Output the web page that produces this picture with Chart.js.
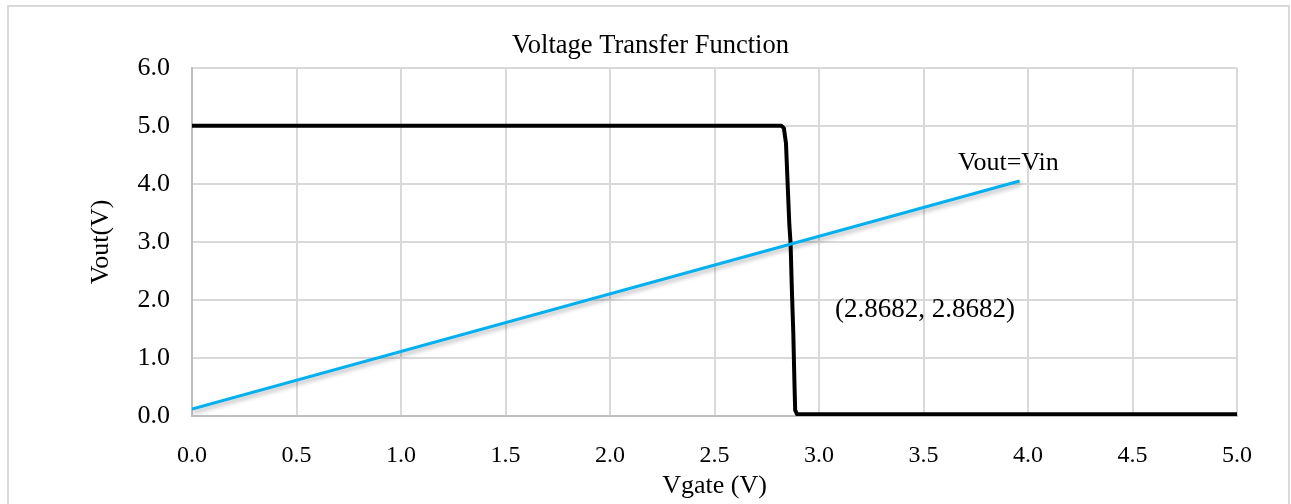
<!DOCTYPE html>
<html>
<head>
<meta charset="utf-8">
<script src="https://cdn.jsdelivr.net/npm/chart.js@4/dist/chart.umd.min.js"></script>
<style>
  html, body { margin: 0; padding: 0; background: #ffffff; }
  #wrap { position: relative; width: 1291px; height: 504px; }
</style>
</head>
<body>
<div id="wrap"><canvas id="c" width="1291" height="504"></canvas></div>
<script>
// ---- data ----
const vtcX = [0, 2.82, 2.832, 2.842, 2.85, 2.858, 2.864, 2.87, 2.877, 2.883, 2.886, 2.895, 5.0];
const vtcY = [5.0, 5.0, 4.96, 4.7, 4.0, 3.3, 2.98, 2.2, 1.43, 0.5, 0.1, 0.03, 0.03];
const unityX = [0, 3.96];
const unityY = [0.12, 4.05];
const xTickValues = [0, 0.5, 1, 1.5, 2, 2.5, 3, 3.5, 4, 4.5, 5];
const yTickValues = [0, 1, 2, 3, 4, 5, 6];
const labelTexts = ["Vout=Vin", "(2.8682, 2.8682)"];
const labelX = [3.665, 3.077];
const labelY = [4.36, 1.83];

const toPts = (xs, ys) => xs.map((x, i) => ({ x: x, y: ys[i] }));
const SERIF = "'Liberation Serif', 'Times New Roman', serif";

const framePlugin = {
  id: 'frame',
  beforeDraw(chart) {
    const ctx = chart.ctx;
    ctx.save();
    ctx.fillStyle = '#ffffff';
    ctx.fillRect(0, 0, chart.width, chart.height);
    ctx.strokeStyle = '#d9d9d9';
    ctx.lineWidth = 2;
    ctx.strokeRect(8, 6, 1281, 530);
    ctx.restore();
  }
};

const shadowPlugin = {
  id: 'lineShadow',
  beforeDatasetDraw(chart, args) {
    if (args.index === 0) {
      const ctx = chart.ctx;
      ctx.save();
      ctx.shadowColor = 'rgba(0,0,0,0.28)';
      ctx.shadowBlur = 4;
      ctx.shadowOffsetX = 1;
      ctx.shadowOffsetY = 3;
    }
  },
  afterDatasetDraw(chart, args) {
    if (args.index === 0) chart.ctx.restore();
  }
};

const labelPlugin = {
  id: 'textLabels',
  afterDatasetsDraw(chart) {
    const ctx = chart.ctx;
    const xs = chart.scales.x, ys = chart.scales.y;
    ctx.save();
    ctx.fillStyle = '#000000';
    ctx.textAlign = 'left';
    ctx.textBaseline = 'middle';
    labelTexts.forEach((t, i) => {
      ctx.font = (i === 0 ? "26px " : "27px ") + SERIF;
      ctx.fillText(t, xs.getPixelForValue(labelX[i]), ys.getPixelForValue(labelY[i]));
    });
    ctx.restore();
  }
};

new Chart(document.getElementById('c'), {
  type: 'scatter',
  data: {
    datasets: [
      {
        label: 'Vout=Vin',
        data: toPts(unityX, unityY),
        showLine: true,
        borderColor: '#00b0f0',
        borderWidth: 3,
        pointRadius: 0,
        tension: 0
      },
      {
        label: 'VTC',
        data: toPts(vtcX, vtcY),
        showLine: true,
        borderColor: '#000000',
        borderWidth: 4,
        borderJoinStyle: 'round',
        pointRadius: 0,
        tension: 0
      }
    ]
  },
  options: {
    responsive: false,
    animation: false,
    devicePixelRatio: 1,
    layout: { padding: { left: 10, right: 0, top: 0, bottom: 0 } },
    plugins: {
      legend: { display: false },
      tooltip: { enabled: false },
      title: {
        display: true,
        text: 'Voltage Transfer Function',
        color: '#000000',
        font: { family: SERIF, size: 26.5, weight: 'normal' },
        padding: { top: 30, bottom: 6 }
      }
    },
    scales: {
      x: {
        type: 'linear',
        min: 0,
        max: 5,
        afterFit(s) { s.height = 88; },
        afterBuildTicks(s) { s.ticks = xTickValues.map(v => ({ value: v })); },
        ticks: {
          color: '#000000',
          font: { family: SERIF, size: 24 },
          padding: 25,
          maxRotation: 0,
          callback: v => Number(v).toFixed(1)
        },
        grid: { color: '#d9d9d9', lineWidth: 2, drawTicks: false },
        border: { color: '#bfbfbf', width: 2 },
        title: {
          display: true,
          text: 'Vgate (V)',
          color: '#000000',
          font: { family: SERIF, size: 26 },
          padding: { top: 0, bottom: 2 }
        }
      },
      y: {
        type: 'linear',
        min: 0,
        max: 6,
        afterFit(s) { s.width = 182; },
        afterBuildTicks(s) { s.ticks = yTickValues.map(v => ({ value: v })); },
        ticks: {
          color: '#000000',
          font: { family: SERIF, size: 26 },
          padding: 22,
          callback: v => Number(v).toFixed(1)
        },
        grid: { color: '#d9d9d9', lineWidth: 2, drawTicks: false },
        border: { color: '#bfbfbf', width: 2 },
        title: {
          display: true,
          text: 'Vout(V)',
          color: '#000000',
          font: { family: SERIF, size: 26 },
          padding: { top: 76, bottom: 0 }
        }
      },
      yRight: {
        type: 'linear',
        position: 'right',
        min: 0,
        max: 1,
        afterFit(s) { s.width = 54; },
        ticks: { display: false },
        grid: { display: false, drawTicks: false },
        border: { display: false },
        title: { display: false }
      }
    }
  },
  plugins: [framePlugin, shadowPlugin, labelPlugin]
});
</script>
</body>
</html>
